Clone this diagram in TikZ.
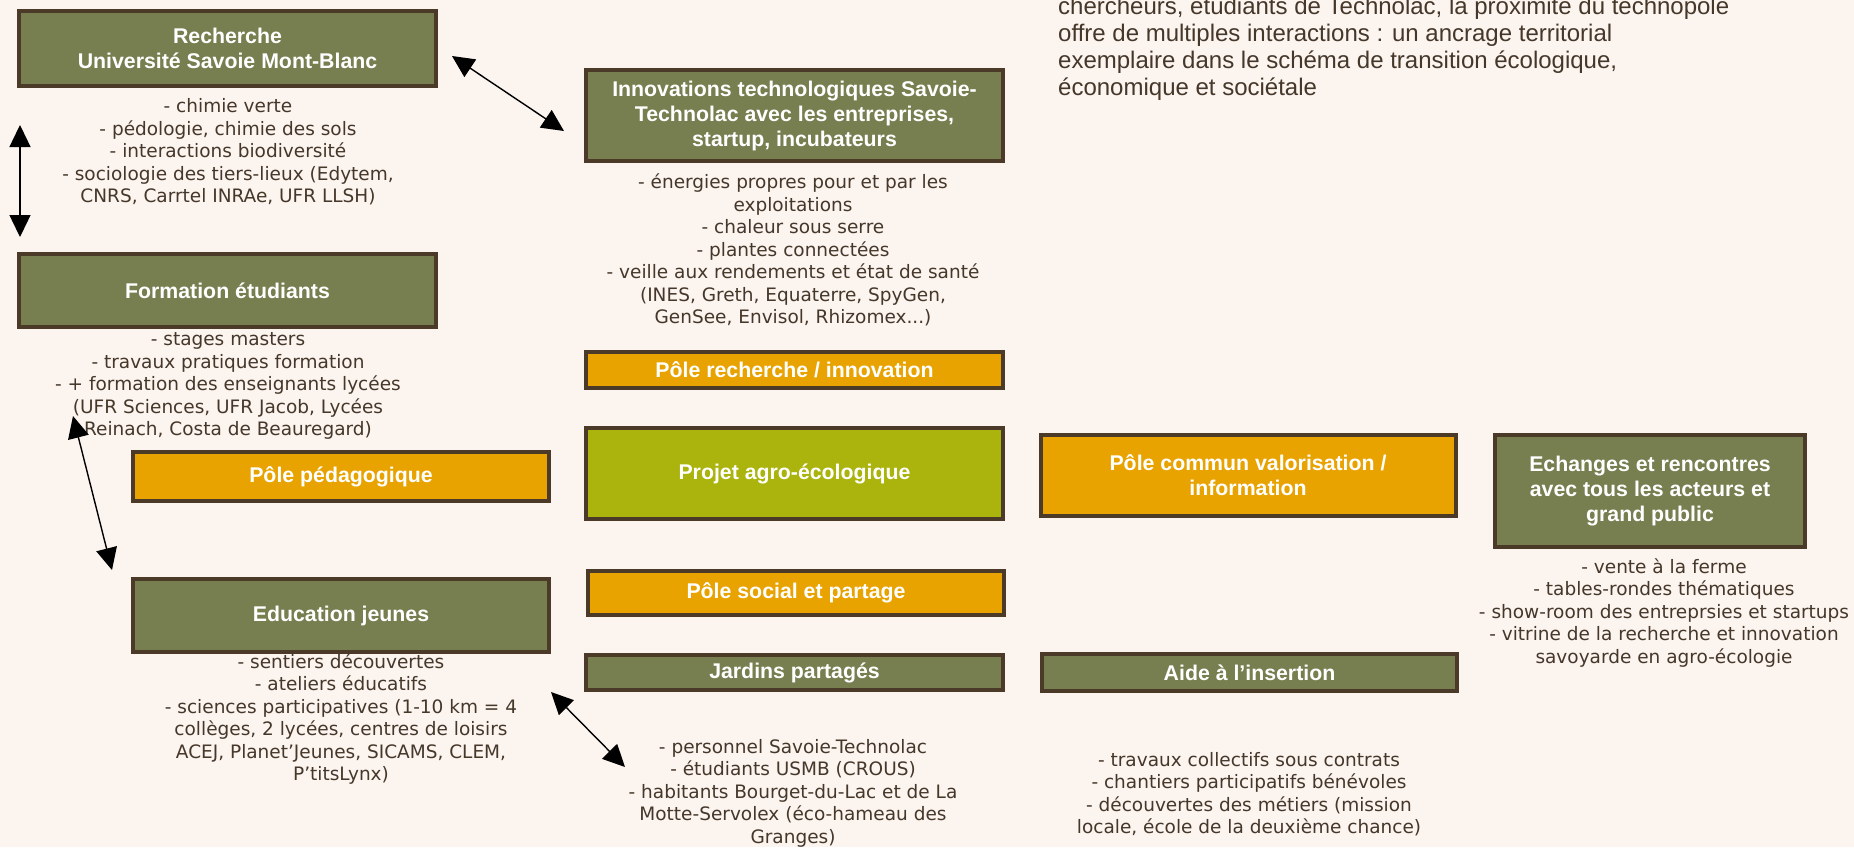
\documentclass[tikz,border=0pt]{standalone}
\usepackage{fontspec}
\usetikzlibrary{arrows.meta,positioning}
\newfontfamily\titlefont{Liberation Sans}
\newfontfamily\descfont{DejaVu Sans}
\definecolor{Cream}{HTML}{FCF4EF}
\definecolor{Olive}{HTML}{777F50}
\definecolor{Amber}{HTML}{E8A300}
\definecolor{Lime}{HTML}{ABB30D}
\definecolor{Bord}{HTML}{4B3A28}
\definecolor{Ink}{HTML}{45372A}
\tikzset{
  basebox/.style={draw=Bord,line width=4pt,text=white,align=center,inner sep=0pt,
    font=\titlefont\bfseries\fontsize{21.3}{25}\selectfont},
  olivebox/.style={basebox,fill=Olive},
  amberbox/.style={basebox,fill=Amber},
  limebox/.style={basebox,fill=Lime},
  desc/.style={text=Ink,align=center,inner sep=0pt,font=\descfont\fontsize{18.5}{22.5}\selectfont},
  dbl/.style={{Triangle[length=22pt,width=21pt]}-{Triangle[length=22pt,width=21pt]},line width=1.4pt,draw=black}
}

\begin{document}
\begin{tikzpicture}[x=1pt,y=-1pt]
  \fill[Cream] (0,0) rectangle (1854,847);
  \useasboundingbox (0,0) rectangle (1854,847);
  \clip (0,0) rectangle (1854,847);
  % left column
  \node[olivebox,minimum width=417pt,minimum height=75pt] (rech) at (227.5,48.5) {Recherche\\Université Savoie Mont-Blanc};
  \node[desc] (rechtxt) at (228,152) {- chimie verte\\- pédologie, chimie des sols\\- interactions biodiversité\\- sociologie des tiers-lieux (Edytem,\\CNRS, Carrtel INRAe, UFR LLSH)};
  \node[olivebox,minimum width=417pt,minimum height=73pt] (form) at (227.5,290.5) {Formation étudiants};
  \node[desc] (formtxt) at (228,386) {- stages masters\\- travaux pratiques formation\\- + formation des enseignants lycées\\(UFR Sciences, UFR Jacob, Lycées\\Reinach, Costa de Beauregard)};
  \node[amberbox,minimum width=416pt,minimum height=49pt] (peda) at (341,476.5) {Pôle pédagogique};
  \node[olivebox,minimum width=416pt,minimum height=73pt] (edu) at (341,615.5) {Education jeunes};
  \node[desc] (edutxt) at (341,719) {- sentiers découvertes\\- ateliers éducatifs\\- sciences participatives (1-10 km = 4\\collèges, 2 lycées, centres de loisirs\\ACEJ, Planet’Jeunes, SICAMS, CLEM,\\P’titsLynx)};
  % middle column
  \node[olivebox,minimum width=417pt,minimum height=91pt] (innov) at (794.5,115.5) {Innovations technologiques Savoie-\\Technolac avec les entreprises,\\startup, incubateurs};
  \node[desc] (innovtxt) at (793,250) {- énergies propres pour et par les\\exploitations\\- chaleur sous serre\\- plantes connectées\\- veille aux rendements et état de santé\\(INES, Greth, Equaterre, SpyGen,\\GenSee, Envisol, Rhizomex...)};
  \node[amberbox,minimum width=417pt,minimum height=36pt] (prech) at (794.5,370) {Pôle recherche / innovation};
  \node[limebox,minimum width=417pt,minimum height=91pt] (projet) at (794.5,473.5) {Projet agro-écologique};
  \node[amberbox,minimum width=416pt,minimum height=44pt] (social) at (796,593) {Pôle social et partage};
  \node[olivebox,minimum width=417pt,minimum height=35pt] (jard) at (794.5,672.5) {Jardins partagés};
  \node[desc] (jardtxt) at (793,793) {- personnel Savoie-Technolac\\- étudiants USMB (CROUS)\\- habitants Bourget-du-Lac et de La\\Motte-Servolex (éco-hameau des\\Granges)};
  % right part
  \node[amberbox,minimum width=415pt,minimum height=81pt] (commun) at (1248,475.5) {Pôle commun valorisation /\\information};
  \node[olivebox,minimum width=310pt,minimum height=112pt] (ech) at (1650,491) {Echanges et rencontres\\avec tous les acteurs et\\grand public};
  \node[desc] (echtxt) at (1664,613) {- vente à la ferme\\- tables-rondes thématiques\\- show-room des entreprsies et startups\\- vitrine de la recherche et innovation\\savoyarde en agro-écologie};
  \node[olivebox,minimum width=415pt,minimum height=37pt] (aide) at (1249.5,672.5) {Aide à l’insertion};
  \node[desc] (aidetxt) at (1249,794) {- travaux collectifs sous contrats\\- chantiers participatifs bénévoles\\- découvertes des métiers (mission\\locale, école de la deuxième chance)};
  \node[anchor=north west,align=left,inner sep=0pt,text=Ink,font=\titlefont\fontsize{24}{27}\selectfont] (intro) at (1058,-3) {chercheurs, étudiants de Technolac, la proximité du technopôle\\offre de multiples interactions : un ancrage territorial\\exemplaire dans le schéma de transition écologique,\\économique et sociétale};
  % arrows
  \coordinate (a1) at (20,125); \coordinate (a2) at (20,237);
  \coordinate (b1) at (452,56); \coordinate (b2) at (564,131);
  \coordinate (c1) at (73,416); \coordinate (c2) at (112,570);
  \coordinate (d1) at (551,692); \coordinate (d2) at (625,767);
  \draw[dbl] (a1) -- (a2);
  \draw[dbl] (b1) -- (b2);
  \draw[dbl] (c1) -- (c2);
  \draw[dbl] (d1) -- (d2);
\end{tikzpicture}
\end{document}
